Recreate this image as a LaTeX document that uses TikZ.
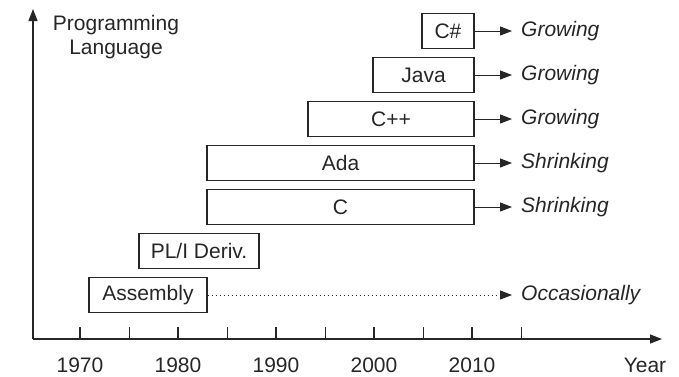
\documentclass[tikz,border=0pt]{standalone}
\usepackage{fontspec}
\setmainfont{Liberation Sans}
\usetikzlibrary{arrows.meta}
\definecolor{ink}{HTML}{262626}
\begin{document}
\begin{tikzpicture}[x=1pt,y=-1pt,
  every node/.style={text=ink,font=\fontsize{21}{24.5}\selectfont},
  axis/.style={draw=ink,line width=1.3pt,-{Triangle[length=12pt,width=9pt]}},
  tick/.style={draw=ink,line width=1pt},
  majortick/.style={draw=ink,line width=1.8pt},
  langbox/.style={draw=ink,line width=1.2pt,minimum height=35pt,inner sep=0pt},
  trend/.style={anchor=west,inner xsep=9pt,inner ysep=0pt,font=\fontsize{21}{24.5}\selectfont\itshape},
  tarrow/.style={draw=ink,line width=1pt,-{Triangle[length=12pt,width=9pt]}},
  yearlbl/.style={inner sep=0pt}]
\useasboundingbox (0,0) rectangle (679,376);

% axes
\coordinate (o) at (33,339);
\coordinate (ytip) at (33,9);
\coordinate (xtip) at (662,339);
\draw[axis] (o) -- (ytip);
\draw[axis] (o) -- (xtip);

\node[align=center,inner sep=0pt] (ylab) at (116,37) {Programming\\Language};
\node[inner sep=0pt] (xlab) at (645,365) {Year};

% ticks every five years, thicker at decades
\foreach \k in {0,...,9}{
  \pgfmathsetmacro{\xx}{80+49*\k}
  \ifodd\k
    \draw[tick] (\xx,327) -- (\xx,339);
  \else
    \draw[majortick] (\xx,327) -- (\xx,339);
  \fi
}
\node[yearlbl] (y1970) at (80,365) {1970};
\node[yearlbl] (y1980) at (178,365) {1980};
\node[yearlbl] (y1990) at (276,365) {1990};
\node[yearlbl] (y2000) at (374,365) {2000};
\node[yearlbl] (y2010) at (472,365) {2010};

% language lifetimes
\node[langbox,minimum width=52pt]  (csharp) at (448,31)    {C\#};
\node[langbox,minimum width=101pt] (java)   at (423.5,75)  {Java};
\node[langbox,minimum width=166pt] (cpp)    at (391,119)   {C++};
\node[langbox,minimum width=267pt] (ada)    at (340.5,163) {Ada};
\node[langbox,minimum width=267pt] (c)      at (340.5,207) {C};
\node[langbox,minimum width=120pt] (pli)    at (199,251)   {PL/I Deriv.};
\node[langbox,minimum width=118pt] (asm)    at (148,295)   {Assembly};

% trends
\node[trend] (tcs)   at (512,31)  {Growing};
\node[trend] (tjava) at (512,75)  {Growing};
\node[trend] (tcpp)  at (512,119) {Growing};
\node[trend] (tada)  at (512,163) {Shrinking};
\node[trend] (tc)    at (512,207) {Shrinking};
\node[trend] (tasm)  at (512,295) {Occasionally};

\draw[tarrow] (csharp.east) -- (tcs.west);
\draw[tarrow] (java.east) -- (tjava.west);
\draw[tarrow] (cpp.east) -- (tcpp.west);
\draw[tarrow] (ada.east) -- (tada.west);
\draw[tarrow] (c.east) -- (tc.west);
\draw[tarrow,dash pattern=on 1.3pt off 2.7pt] (asm.east) -- (tasm.west);
\end{tikzpicture}
\end{document}
